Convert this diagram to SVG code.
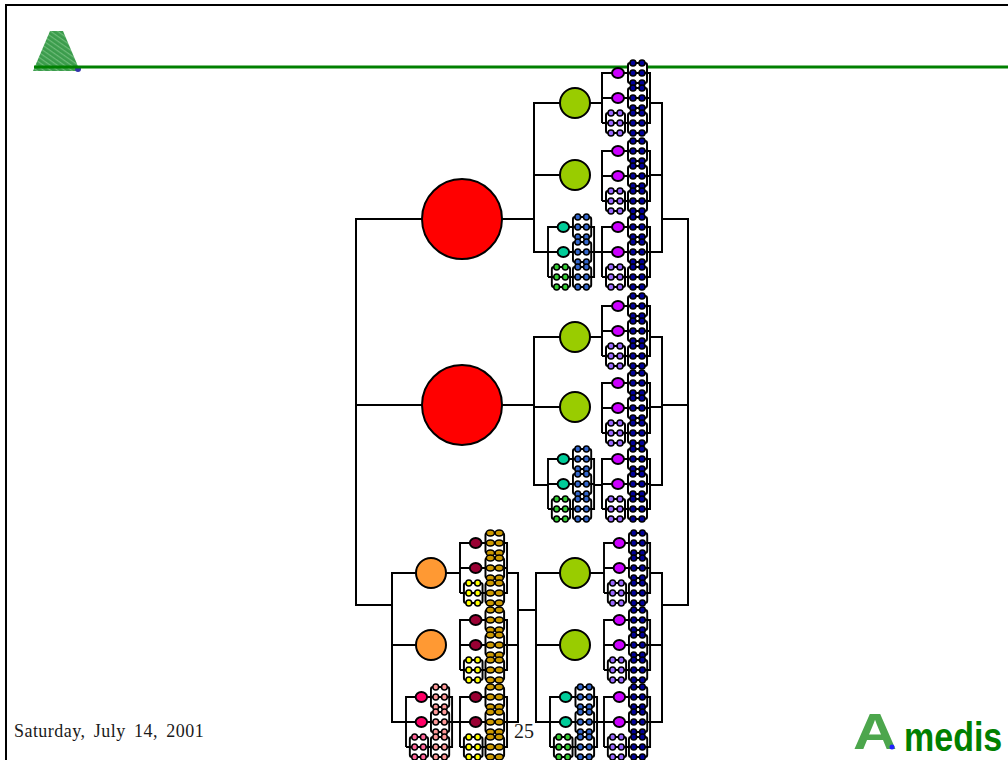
<svg xmlns="http://www.w3.org/2000/svg" width="1008" height="760" viewBox="0 0 1008 760">
<style>
text{font-family:"Liberation Serif",serif;fill:#1a1a1a}
.s{font-family:"Liberation Sans",sans-serif;font-weight:bold}
.l{fill:none;stroke:#000;stroke-width:2}
.n{stroke:#000;stroke-width:2}
.red{fill:#f00}.olive{fill:#9c0}.orange{fill:#f93}
.b{fill:#fff;stroke:#000;stroke-width:2}
.d ellipse{stroke:#000;stroke-width:1.6;rx:var(--r);ry:3px}
.o{fill:var(--o);stroke:#000;stroke-width:2}
.p{fill:var(--p);--r:var(--pr)}.q{fill:var(--q);--r:3px}
.pk{--o:#c0f;--p:#009;--q:#96f;--pr:3px}
.tl{--o:#0c9;--p:#36c;--q:#3c3;--pr:3px}
.cr{--o:#903;--p:#c90;--q:#ff0;--pr:4.2px}
.rs{--o:#f06;--p:#f99;--q:#f69;--pr:3px}
</style>
<defs>
<pattern id="hatch" width="4" height="4" patternUnits="userSpaceOnUse" patternTransform="rotate(35)"><rect width="4" height="4" fill="#3b9c4c"/><rect width="4" height="1.2" fill="#6dbb78"/></pattern>
<g id="blk"><path class="b" d="M2 0H17Q19 0 19 2V18Q19 20 17 20H2Q0 20 0 18V2Q0 0 2 0Z M0 10H19"/>
<g class="d"><ellipse cx="5" cy="0"/><ellipse cx="14" cy="0"/><ellipse cx="5" cy="10"/><ellipse cx="14" cy="10"/><ellipse cx="5" cy="20"/><ellipse cx="14" cy="20"/></g></g>
<g id="unit">
<path class="l" d="M0 50V0H26M0 25H26M0 50H4M22 50H26M45 0H48V50H45M45 25H48"/>
<ellipse class="o" cx="16" cy="0" rx="6" ry="5"/><ellipse class="o" cx="16" cy="25" rx="6" ry="5"/>
<use href="#blk" class="q" x="4" y="40"/>
<use href="#blk" class="p" x="26" y="-10"/><use href="#blk" class="p" x="26" y="15"/><use href="#blk" class="p" x="26" y="40"/>
</g>
</defs>
<rect width="1008" height="760" fill="#fff"/>
<path class="l" d="M1008 5H6V760"/>
<g id="logo-top"><path d="M33 71L50 31H63L80 71Z" fill="url(#hatch)"/><circle cx="78" cy="69" r="3" fill="#33a"/></g>
<path d="M34 67H1008" stroke="#008000" stroke-width="3.2" fill="none"/>
<g id="connectors">
<path class="l" d="M422 219H356V605H392M422 405H356M502 219H534M502 405H534"/>
<path class="l" d="M602 103H534V252H548M560 175H534M650 103H662V252H650M650 175H662M662 219H688V605H662M662 405H688"/>
<path class="l" d="M602 337H534V485H548M560 407H534M650 337H662V485H650M650 407H662"/>
<path class="l" d="M604 573H536V722H550M560 645H536M650 573H662V722H650M650 645H662"/>
<path class="l" d="M460 573H392V722H406M416 645H392M507 573H518V722H507M507 645H518M518 610H536"/>
<path class="l" d="M594 252H602M594 485H602M597 722H604M452 722H460"/>
</g>
<g id="n1"><circle class="n red" cx="462" cy="219" r="40"/></g>
<g id="n2"><circle class="n red" cx="462" cy="405" r="40"/></g>
<g id="n3"><circle class="n olive" cx="575" cy="103" r="15"/></g>
<g id="n4"><circle class="n olive" cx="575" cy="175" r="15"/></g>
<g id="n5"><circle class="n olive" cx="575" cy="337" r="15"/></g>
<g id="n6"><circle class="n olive" cx="575" cy="407" r="15"/></g>
<g id="n7"><circle class="n olive" cx="575" cy="573" r="15"/></g>
<g id="n8"><circle class="n olive" cx="575" cy="645" r="15"/></g>
<g id="n9"><circle class="n orange" cx="431" cy="573" r="15"/></g>
<g id="n10"><circle class="n orange" cx="431" cy="645" r="15"/></g>
<g id="u1"><use href="#unit" class="pk" x="602" y="73"/></g>
<g id="u2"><use href="#unit" class="pk" x="602" y="151"/></g>
<g id="u3"><use href="#unit" class="pk" x="602" y="227"/></g>
<g id="u4"><use href="#unit" class="pk" x="602" y="306"/></g>
<g id="u5"><use href="#unit" class="pk" x="602" y="383"/></g>
<g id="u6"><use href="#unit" class="pk" x="602" y="459"/></g>
<g id="u7"><use href="#unit" class="pk" transform="translate(604 543) scale(.96 1)"/></g>
<g id="u8"><use href="#unit" class="pk" transform="translate(604 620) scale(.96 1)"/></g>
<g id="u9"><use href="#unit" class="pk" transform="translate(604 697) scale(.96 1)"/></g>
<g id="u10"><use href="#unit" class="tl" transform="translate(548 227) scale(.96 1)"/></g>
<g id="u11"><use href="#unit" class="tl" transform="translate(548 459) scale(.96 1)"/></g>
<g id="u12"><use href="#unit" class="tl" transform="translate(550 697) scale(.98 1)"/></g>
<g id="u13"><use href="#unit" class="cr" transform="translate(460 543) scale(.98 1)"/></g>
<g id="u14"><use href="#unit" class="cr" transform="translate(460 620) scale(.98 1)"/></g>
<g id="u15"><use href="#unit" class="cr" transform="translate(460 697) scale(.98 1)"/></g>
<g id="u16"><use href="#unit" class="rs" transform="translate(406 697) scale(.96 1)"/></g>
<text x="14" y="737" font-size="18" word-spacing="3.5" letter-spacing=".45">Saturday, July 14, 2001</text>
<text x="514" y="738" font-size="20">25</text>
<g id="logo"><text class="s" transform="translate(853 749) scale(1.22 1)" font-size="50" style="fill:#4ca64c">A</text>
<circle cx="892" cy="747" r="2.5" fill="#22f"/>
<text class="s" transform="translate(904 751) scale(1 1.2)" font-size="34" style="fill:#008000">medis</text></g>
</svg>
